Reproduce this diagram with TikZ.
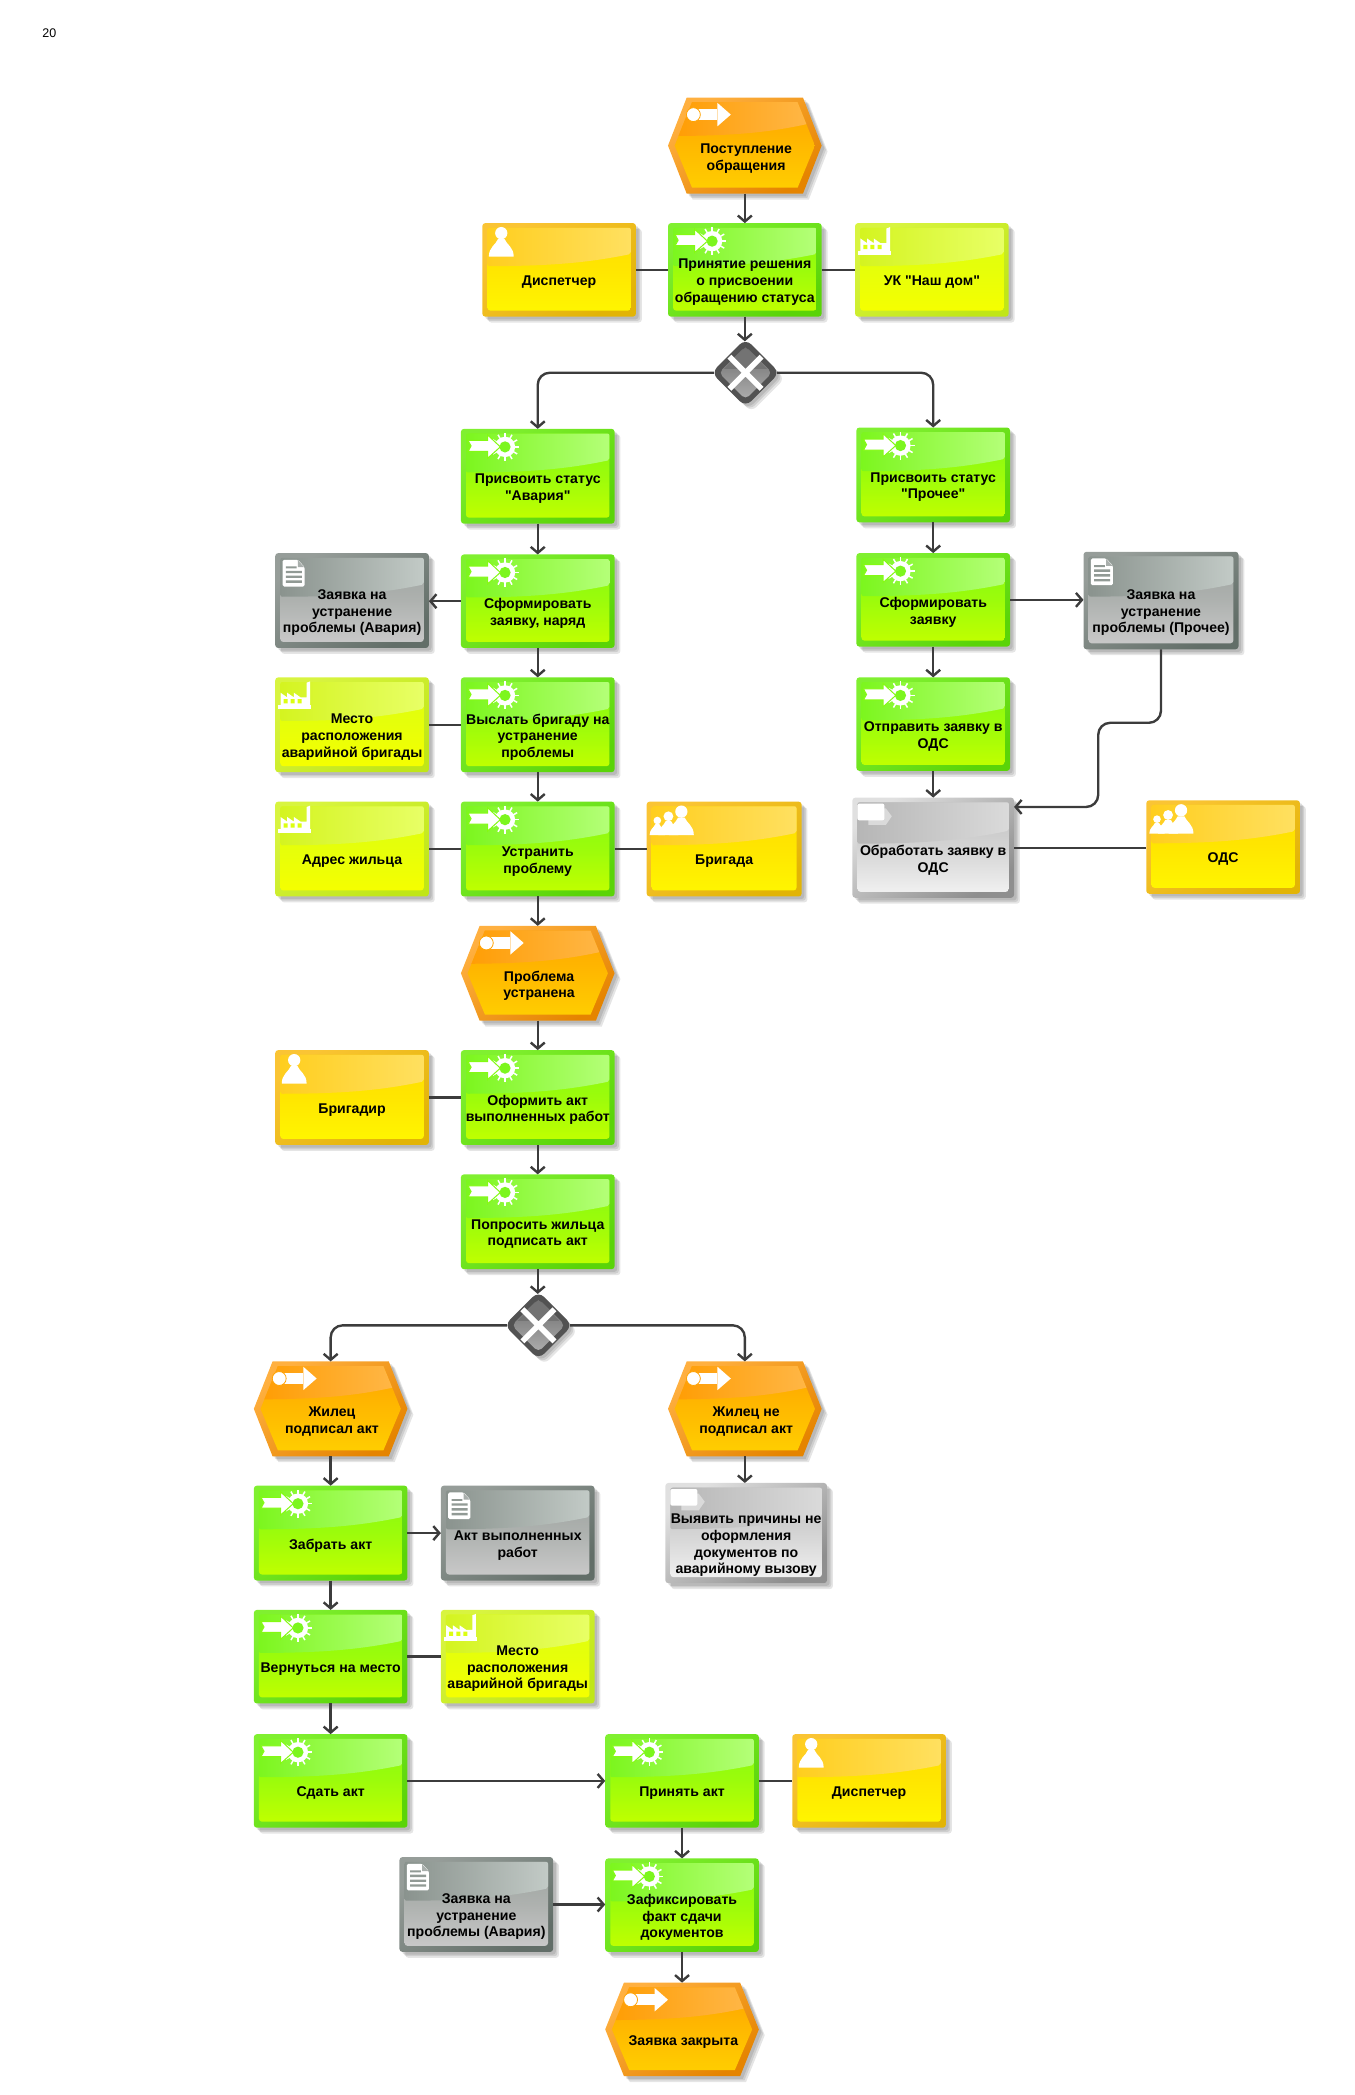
\documentclass[tikz,border=0pt]{standalone}
\usepackage{fontspec}
\setmainfont{Liberation Sans}
\newfontfamily\lblfont{Liberation Sans}
\usetikzlibrary{arrows.meta,shapes.geometric,calc}
\definecolor{ev-ft}{HTML}{FFB040}\definecolor{ev-fb}{HTML}{E58400}\definecolor{ev-a}{HTML}{FFA200}\definecolor{ev-b}{HTML}{FFD000}\definecolor{ev-gl}{HTML}{FF9C00}\definecolor{ev-gr}{HTML}{FFB94D}
\definecolor{fn-ft}{HTML}{80F030}\definecolor{fn-fb}{HTML}{5AD408}\definecolor{fn-a}{HTML}{84FA12}\definecolor{fn-b}{HTML}{BFFF00}\definecolor{fn-gl}{HTML}{7CF61E}\definecolor{fn-gr}{HTML}{B4FF78}
\definecolor{org-ft}{HTML}{FAC434}\definecolor{org-fb}{HTML}{E2B406}\definecolor{org-a}{HTML}{FFDC00}\definecolor{org-b}{HTML}{FFF500}\definecolor{org-gl}{HTML}{FFCE1E}\definecolor{org-gr}{HTML}{FFE060}
\colorlet{grp-ft}{org-ft}\colorlet{grp-fb}{org-fb}\colorlet{grp-a}{org-a}\colorlet{grp-b}{org-b}\colorlet{grp-gl}{org-gl}\colorlet{grp-gr}{org-gr}
\definecolor{loc-ft}{HTML}{D8F440}\definecolor{loc-fb}{HTML}{C0E618}\definecolor{loc-a}{HTML}{DCFF10}\definecolor{loc-b}{HTML}{F5FF00}\definecolor{loc-gl}{HTML}{D4F420}\definecolor{loc-gr}{HTML}{E8FF66}
\definecolor{doc-ft}{HTML}{969D99}\definecolor{doc-fb}{HTML}{626E68}\definecolor{doc-a}{HTML}{9CA29E}\definecolor{doc-b}{HTML}{C8C8C8}\definecolor{doc-gl}{HTML}{8A938E}\definecolor{doc-gr}{HTML}{C2CAC6}
\definecolor{task-ft}{HTML}{E0E0E0}\definecolor{task-fb}{HTML}{8E8E8E}\definecolor{task-a}{HTML}{C0C0C0}\definecolor{task-b}{HTML}{F0F0F0}\definecolor{task-gl}{HTML}{B6B6B6}\definecolor{task-gr}{HTML}{DADADA}
\definecolor{conn}{HTML}{3C3C3C}
\newcommand\uu{1.336}
\tikzset{
  x=\uu pt,y=-\uu pt,
  flow/.style={draw=conn,line width=2.4pt,-{Straight Barb[length=6pt,width=14pt,line width=2.4pt]}},
  link/.style={draw=conn,line width=2.4pt},
  anchorbox/.style={rectangle,inner sep=0pt,outer sep=0pt},
  lbl/.style={font=\lblfont\fontsize{14.1}{16.6}\selectfont\bfseries,align=center,text=black,inner sep=0pt},
  shadowlayer/.style={fill=black,opacity=.1},
}
% ----- icons (coordinates relative to the box's top left corner)
\newcommand\iconev[1]{%
  \fill[white] (19,8.7) rectangle (37,17);
  \fill[white] (37,4) -- (47,12.8) -- (37,21.5) -- cycle;
  \fill[white,draw=#1-a,line width=.8pt] (19,12.8) circle (5.2);
}
\newcommand\iconfn[1]{%
  \foreach \a in {0,30,...,330}{\draw[white,line width=1.5pt,shift={(33,13.5)}] (\a:6) -- (\a:10.5);}
  \fill[white] (33,13.5) circle (7.6);
  \fill[#1-gl] (33,13.5) circle (4.2);
  \fill[white,draw=#1-a,line width=1pt] (5.3,8.7) -- (20,8.7) -- (20,4.6) -- (29.5,13.5) -- (20,22) -- (20,16.9) -- (5.3,16.9) -- (7.6,12.8) -- cycle;
}
\newcommand\psn[3]{% x, y bottom, scale
  \begin{scope}[shift={(#1,#2)},scale=#3]
    \fill[white] (0,-17.5) circle (4.6);
    \fill[white] (-9.3,0) .. controls (-9.3,-7) and (-4,-9) .. (-2.5,-13) -- (2.5,-13) .. controls (4,-9) and (9.3,-7) .. (9.3,0) -- cycle;
  \end{scope}}
\newcommand\iconorg[1]{\psn{14.2}{25}{1}}
\newcommand\icongrp[1]{\psn{8}{25}{.62}\psn{16.3}{25}{.8}\psn{26}{25}{1}}
\newcommand\iconloc[1]{%
  \fill[white] (2.4,20.5) rectangle (27,23.6);
  \fill[white] (4,21) -- (4,11.5) -- (9,15) -- (9,11.5) -- (14,15) -- (14,11.5) -- (19,15) -- (23.5,15) -- (23.5,4) -- (26.2,3) -- (26.2,21) -- cycle;
  \fill[#1-a] (6.2,16.2) rectangle (9.2,19.4) (11.5,16.2) rectangle (14.5,19.4) (16.8,16.2) rectangle (19.8,19.4);
}
\newcommand\icondoc[1]{%
  \fill[white,rounded corners=1.5pt] (5.5,5) -- (17,5) -- (22,10.5) -- (22,25) -- (5.5,25) -- cycle;
  \fill[#1-fb!55!white] (17,5.4) -- (17,10.5) -- (21.6,10.5) -- cycle;
  \fill[#1-fb!70!white] (8,10) rectangle (16,11.4) (8,13.2) rectangle (20,15) (8,16.8) rectangle (20,18.6) (8,20.4) rectangle (20,22.2);
}
\newcommand\icontask[1]{%
  \fill[#1-gr] (12,8) -- (25,8) -- (29.5,14) -- (25,20.5) -- (12,20.5) -- cycle;
  \fill[white,rounded corners=2pt] (3.7,4.5) rectangle (24,17);
}
% ----- rectangular element: name, left, top, right, bottom, kind, text
\newcommand\eb[7]{%
  \pgfmathsetmacro\cxx{(#2+#4)/2}\pgfmathsetmacro\cyy{(#3+#5)/2}
  \pgfmathsetmacro\ww{#4-#2}\pgfmathsetmacro\hh{#5-#3}
  \foreach \o in {2,3.2,4.4}{\fill[shadowlayer,rounded corners=3pt] (#2+\o,#3+\o) rectangle (#4+\o,#5+\o);}
  \shade[rounded corners=3pt,top color=#6-ft,bottom color=#6-fb,shading angle=35] (#2,#3) rectangle (#4,#5);
  \shade[rounded corners=3pt,top color=#6-a,bottom color=#6-b,middle color=#6-a!60!#6-b] (#2+3.8,#3+3.5) rectangle (#4-3.8,#5-4.5);
  \shade[left color=#6-gl,right color=#6-gr,rounded corners=2pt] (#2+3.8,#3+3.5) -- (#4-3.8,#3+3.5) -- (#4-3.8,#3+.33*\hh)
     .. controls (#4-.3*\ww,#3+.42*\hh) and (#2+.45*\ww,#3+.46*\hh) .. (#2+3.8,#3+.46*\hh) -- cycle;
  \begin{scope}[shift={(#2,#3)}]\csname icon#6\endcsname{#6}\end{scope}
  \node[anchorbox,minimum width={\ww*\uu pt},minimum height={\hh*\uu pt}] (#1) at (\cxx,\cyy) {};
  \node[lbl] (#1-t) at (\cxx,\cyy+9.2) {#7};
}
% ----- event hexagon: name, left, top, right, bottom, text
\newcommand\eh[6]{%
  \pgfmathsetmacro\cxx{(#2+#4)/2}\pgfmathsetmacro\cyy{(#3+#5)/2}
  \pgfmathsetmacro\ww{#4-#2}\pgfmathsetmacro\hh{#5-#3}
  \foreach \o in {2,3.2,4.4}{\fill[shadowlayer] (#2+\o,\cyy+\o) -- (#2+14+\o,#3+\o) -- (#4-14+\o,#3+\o) -- (#4+\o,\cyy+\o) -- (#4-14+\o,#5+\o) -- (#2+14+\o,#5+\o) -- cycle;}
  \shade[top color=ev-ft,bottom color=ev-fb,shading angle=35] (#2,\cyy) -- (#2+14,#3) -- (#4-14,#3) -- (#4,\cyy) -- (#4-14,#5) -- (#2+14,#5) -- cycle;
  \begin{scope}
    \clip (#2+5,\cyy) -- (#2+18,#3+3.5) -- (#4-18,#3+3.5) -- (#4-5,\cyy) -- (#4-18,#5-4.5) -- (#2+18,#5-4.5) -- cycle;
    \shade[top color=ev-a,bottom color=ev-b] (#2,#3) rectangle (#4,#5);
    \shade[left color=ev-gl,right color=ev-gr] (#2,#3) -- (#4,#3) -- (#4,#3+.24*\hh)
      .. controls (#4-.3*\ww,#3+.36*\hh) and (#2+.45*\ww,#3+.4*\hh) .. (#2,#3+.4*\hh) -- cycle;
  \end{scope}
  \begin{scope}[shift={(#2,#3)}]\iconev{ev}\end{scope}
  \node[anchorbox,minimum width={\ww*\uu pt},minimum height={\hh*\uu pt}] (#1) at (\cxx,\cyy) {};
  \node[lbl] (#1-t) at (\cxx+1,\cyy+9.5) {#6};
}
% ----- XOR gateway: name, cx, cy
\newcommand\eg[3]{%
  \foreach \o in {2,3.2,4.4}{\fill[shadowlayer,rounded corners=7pt] (#2+\o,#3-25+\o) -- (#2+25+\o,#3+\o) -- (#2+\o,#3+25+\o) -- (#2-25+\o,#3+\o) -- cycle;}
  \fill[black!68,rounded corners=8pt] (#2,#3-25.5) -- (#2+25.5,#3) -- (#2,#3+25.5) -- (#2-25.5,#3) -- cycle;
  \shade[top color=black!58,bottom color=black!32,rounded corners=5pt] (#2,#3-20) -- (#2+20,#3) -- (#2,#3+20) -- (#2-20,#3) -- cycle;
  \begin{scope}
    \clip (#2,#3-19) -- (#2+19,#3) -- (#2,#3+19) -- (#2-19,#3) -- cycle;
    \fill[black!55] (#2-20,#3-20) rectangle (#2+20,#3-3);
  \end{scope}
  \draw[white,line width=5.6pt] (#2-12,#3-12) -- (#2+12,#3+12) (#2-12,#3+12) -- (#2+12,#3-12);
  \node[diamond,aspect=1,inner sep=0pt,outer sep=0pt,minimum width={47*\uu pt},minimum height={47*\uu pt}] (#1) at (#2,#3) {};
}
% straight connectors that keep the start point's height / abscissa
\newcommand\hr[3][flow]{\draw[#1] (#2.east) -- (#2.east -| #3.west);}
\newcommand\hl[3][flow]{\draw[#1] (#2.west) -- (#2.west -| #3.east);}
\newcommand\vd[2]{\draw[flow] (#1.south) -- (#1.south |- #2.north);}
\begin{document}
\begin{tikzpicture}
\useasboundingbox (0,0) rectangle (1013.5,1568.1);
\node[font=\fontsize{12.5}{14}\selectfont,inner sep=0pt] (pg) at (37,25) {20};
\eh{e1}{500}{73}{615}{145}{Поступление\\обращения}
\eb{p1}{500}{167}{615}{237}{fn}{Принятие решения\\о присвоении\\обращению статуса}
\eb{disp}{361}{167}{476}{237}{org}{Диспетчер}
\eb{uk}{640}{167}{755}{237}{loc}{УК "Наш дом"}
\eg{g1}{558}{279}
\eb{a1}{345}{321}{460}{392}{fn}{Присвоить статус\\"Авария"}
\eb{b1}{641}{320}{756}{391}{fn}{Присвоить статус\\"Прочее"}
\eb{a2}{345}{415}{460}{485}{fn}{Сформировать\\заявку, наряд}
\eb{da}{206}{414}{321}{485}{doc}{Заявка на\\устранение\\проблемы (Авария)}
\eb{b2}{641}{414}{756}{484}{fn}{Сформировать\\заявку}
\eb{dp}{811}{413}{927}{486}{doc}{Заявка на\\устранение\\проблемы (Прочее)}
\eb{a3}{345}{507}{460}{578}{fn}{Выслать бригаду на\\устранение\\проблемы}
\eb{la}{206}{507}{321}{578}{loc}{Место\\расположения\\аварийной бригады}
\eb{b3}{641}{507}{756}{577}{fn}{Отправить заявку в\\ОДС}
\eb{b4}{638}{597}{759}{672}{task}{Обработать заявку в\\ОДС}
\eb{ods}{858}{599}{973}{669}{grp}{ОДС}
\eb{addr}{206}{600}{321}{671}{loc}{Адрес жильца}
\eb{a4}{345}{600}{460}{671}{fn}{Устранить\\проблему}
\eb{brig}{484}{600}{600}{671}{grp}{Бригада}
\eh{e2}{345}{693}{460}{764}{Проблема\\устранена}
\eb{brd}{206}{786}{321}{857}{org}{Бригадир}
\eb{a5}{345}{786}{460}{857}{fn}{Оформить акт\\выполненных работ}
\eb{a6}{345}{879}{460}{950}{fn}{Попросить жильца\\подписать акт}
\eg{g2}{403}{992}
\eh{e3}{190}{1019}{305}{1090}{Жилец\\подписал акт}
\eh{e4}{500}{1019}{615}{1090}{Жилец не\\подписал акт}
\eb{c1}{190}{1112}{305}{1183}{fn}{Забрать акт}
\eb{dact}{330}{1112}{445}{1183}{doc}{Акт выполненных\\работ}
\eb{t2}{498}{1110}{619}{1185}{task}{Выявить причины не\\оформления\\документов по\\аварийному вызову}
\eb{c2}{190}{1205}{305}{1275}{fn}{Вернуться на место}
\eb{lb}{330}{1205}{445}{1275}{loc}{Место\\расположения\\аварийной бригады}
\eb{c3}{190}{1298}{305}{1368}{fn}{Сдать акт}
\eb{c4}{453}{1298}{568}{1368}{fn}{Принять акт}
\eb{disp2}{593}{1298}{708}{1368}{org}{Диспетчер}
\eb{db}{299}{1390}{414}{1461}{doc}{Заявка на\\устранение\\проблемы (Авария)}
\eb{c5}{453}{1391}{568}{1461}{fn}{Зафиксировать\\факт сдачи\\документов}
\eh{e5}{453}{1484}{568}{1554}{Заявка закрыта}
% ----- connectors
\vd{e1}{p1}
\hr[link]{disp}{p1}
\hr[link]{p1}{uk}
\vd{p1}{g1}
\draw[flow,rounded corners=12pt] (g1.west) -| (a1.north);
\draw[flow,rounded corners=12pt] (g1.east) -| (b1.north);
\vd{a1}{a2}
\hl{a2}{da}
\vd{a2}{a3}
\hl[link]{a3}{la}
\vd{a3}{a4}
\hl[link]{a4}{addr}
\hr[link]{a4}{brig}
\vd{a4}{e2}
\vd{e2}{a5}
\hl[link]{a5}{brd}
\vd{a5}{a6}
\vd{a6}{g2}
\draw[flow,rounded corners=12pt] (g2.west) -| (e3.north);
\draw[flow,rounded corners=12pt] (g2.east) -| (e4.north);
\vd{e3}{c1}
\hr{c1}{dact}
\vd{c1}{c2}
\hr[link]{c2}{lb}
\vd{c2}{c3}
\hr{c3}{c4}
\hr[link]{c4}{disp2}
\vd{c4}{c5}
\hr{db}{c5}
\vd{c5}{e5}
\vd{e4}{t2}
\vd{b1}{b2}
\hr{b2}{dp}
\vd{b2}{b3}
\vd{b3}{b4}
\coordinate (j1) at (869,541);
\coordinate (j2) at (822,541);
\coordinate (j3) at (822,604);
\coordinate (j4) at (759,604);
\draw[flow,rounded corners=12pt] (dp.south) -- (j1) -- (j2) -- (j3) -- (j4);
\hr[link]{b4}{ods}
\end{tikzpicture}
\end{document}
